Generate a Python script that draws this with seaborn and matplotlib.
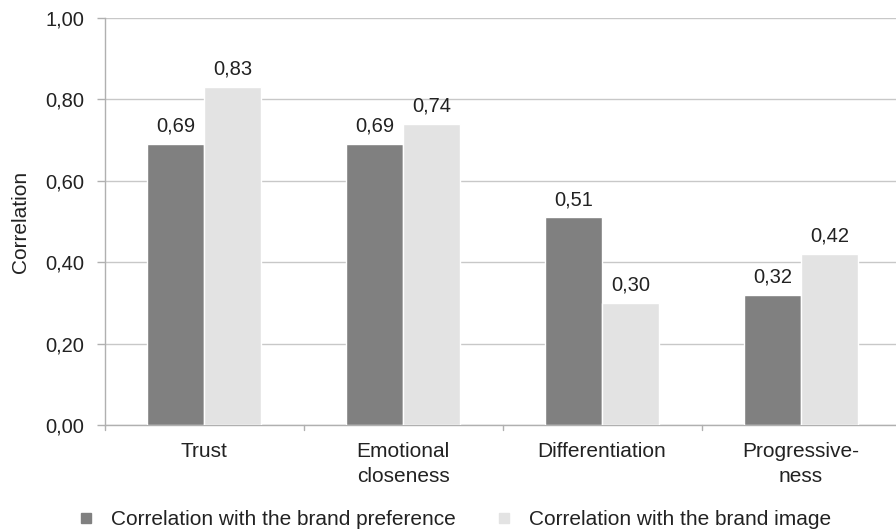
import matplotlib
matplotlib.use("Agg")
import matplotlib.pyplot as plt
from matplotlib.lines import Line2D
import pandas as pd
import seaborn as sns

categories = ["Trust", "Emotional\ncloseness", "Differentiation", "Progressive-\nness"]
series_names = ["Correlation with the brand preference", "Correlation with the brand image"]
brand_preference = [0.69, 0.69, 0.51, 0.32]
brand_image = [0.83, 0.74, 0.30, 0.42]
colors = ["#808080", "#e3e3e3"]

df = pd.DataFrame({
    "Category": categories * 2,
    "Series": [series_names[0]] * 4 + [series_names[1]] * 4,
    "Value": brand_preference + brand_image,
})

sns.set_style("white")
plt.rcParams["font.family"] = ["Liberation Sans", "DejaVu Sans"]
text_color = "#222222"

fig = plt.figure(figsize=(8.96, 5.3), dpi=100)
ax = fig.add_axes([0.117, 0.198, 0.888, 0.768])

sns.barplot(data=df, x="Category", y="Value", hue="Series", palette=colors,
            width=0.573, gap=0, saturation=1, legend=False, ax=ax, zorder=3)

for cont in ax.containers:
    ax.bar_label(cont, labels=[f"{v:.2f}".replace(".", ",") for v in cont.datavalues],
                 padding=6, fontsize=14.5, color=text_color)

ax.set_ylim(0, 1.0)
ax.set_xlim(-0.5, 3.5)
yt = [0, 0.2, 0.4, 0.6, 0.8, 1.0]
ax.set_yticks(yt)
ax.set_yticklabels([f"{v:.2f}".replace(".", ",") for v in yt], fontsize=14.5, color=text_color)
ax.yaxis.grid(True, color="#c8c8c8", linewidth=1, zorder=0)
ax.set_xticks([0, 1, 2, 3])
ax.set_xticklabels(categories, fontsize=15, color=text_color, linespacing=1.45)
ax.tick_params(axis="x", length=0, pad=12)
ax.tick_params(axis="y", length=6, color="#b0b0b0", width=1, pad=9, left=True)

# category separators on the x axis
for b in [-0.5, 0.5, 1.5, 2.5]:
    ax.plot([b, b], [0, -0.012], color="#b0b0b0", lw=1, clip_on=False)

for s in ["top", "right"]:
    ax.spines[s].set_visible(False)
for s in ["left", "bottom"]:
    ax.spines[s].set_color("#b0b0b0")
    ax.spines[s].set_linewidth(1)

ax.set_xlabel("")
ax.set_ylabel("Correlation", fontsize=15, color=text_color, labelpad=11)

handles = [Line2D([0], [0], marker="s", linestyle="", markersize=7,
                  markerfacecolor=c, markeredgecolor=c) for c in colors]
fig.legend(handles, series_names, loc="center left", bbox_to_anchor=(0.063, 0.019),
           ncol=2, frameon=False, fontsize=15, handlelength=1.0, handletextpad=0.7,
           columnspacing=1.85, labelcolor=text_color)

fig.savefig("out.png", dpi=100)
